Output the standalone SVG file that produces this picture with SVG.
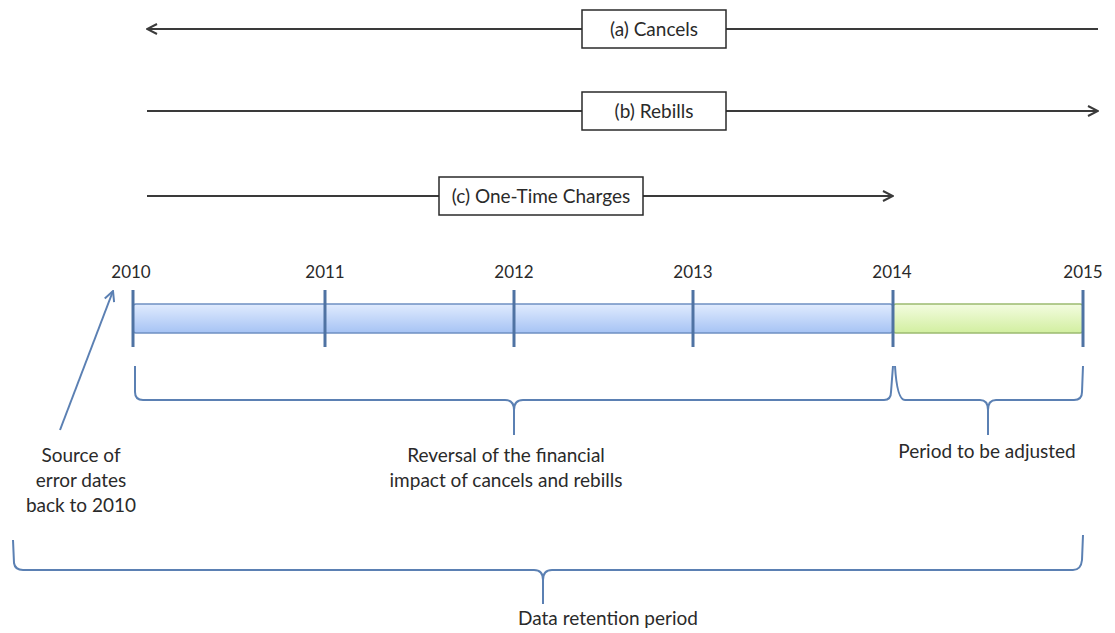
<svg xmlns="http://www.w3.org/2000/svg" width="1115" height="633" viewBox="0 0 1115 633">
<style>
text{font-family:Lato,"Open Sans","Liberation Sans",sans-serif;font-size:19px;fill:#2a2a2a;text-anchor:middle}
.ln{stroke:#3a3a3a;stroke-width:2;fill:none}
.box{fill:#fff;stroke:#2a2a2a;stroke-width:1.5}
.tick{stroke:#4f73a3;stroke-width:3}
.brace{stroke:#5b80b3;stroke-width:2;fill:none}
</style>
<defs>
<marker id="open" viewBox="0 0 12 12" refX="11" refY="6" markerWidth="12" markerHeight="12" markerUnits="userSpaceOnUse" orient="auto-start-reverse">
<path d="M1,1 L11,6 L1,11" fill="none" stroke="#3a3a3a" stroke-width="2"/>
</marker>
<marker id="blueopen" viewBox="0 0 12 12" refX="11" refY="6" markerWidth="12" markerHeight="12" markerUnits="userSpaceOnUse" orient="auto">
<path d="M1,1 L11,6 L1,11" fill="none" stroke="#5b80b3" stroke-width="2"/>
</marker>
<linearGradient id="blue" x1="0" y1="0" x2="0" y2="1">
<stop offset="0" stop-color="#e0ebfe"/>
<stop offset="1" stop-color="#a6c3f4"/>
</linearGradient>
<linearGradient id="green" x1="0" y1="0" x2="0" y2="1">
<stop offset="0" stop-color="#f3fce0"/>
<stop offset="1" stop-color="#d2efa0"/>
</linearGradient>
</defs>
<g id="connectors">
<line class="ln" x1="1098" y1="29" x2="147" y2="29" marker-end="url(#open)"/>
<line class="ln" x1="147" y1="111" x2="1098" y2="111" marker-end="url(#open)"/>
<line class="ln" x1="147" y1="196" x2="893" y2="196" marker-end="url(#open)"/>
<line x1="60" y1="430" x2="113" y2="291" stroke="#5b80b3" stroke-width="2" marker-end="url(#blueopen)"/>
</g>
<g id="cancels">
<rect class="box" x="582" y="10" width="144" height="38"/>
<text x="654" y="36">(a) Cancels</text>
</g>
<g id="rebills">
<rect class="box" x="582" y="92" width="144" height="38"/>
<text x="654" y="118">(b) Rebills</text>
</g>
<g id="onetime">
<rect class="box" x="439" y="177" width="204" height="38"/>
<text x="541" y="203">(c) One-Time Charges</text>
</g>
<g id="timeline">
<rect x="133" y="304" width="760" height="29" rx="3" fill="url(#blue)" stroke="#6f90c2" stroke-width="1.5"/>
<rect x="893" y="304" width="190" height="29" rx="3" fill="url(#green)" stroke="#9cbb70" stroke-width="1.5"/>
<line class="tick" x1="133" y1="290" x2="133" y2="347"/>
<line class="tick" x1="325" y1="290" x2="325" y2="347"/>
<line class="tick" x1="514" y1="290" x2="514" y2="347"/>
<line class="tick" x1="693" y1="290" x2="693" y2="347"/>
<line class="tick" x1="893" y1="290" x2="893" y2="347"/>
<line class="tick" x1="1083" y1="290" x2="1083" y2="347"/>
<text x="131" y="278" style="font-size:17px">2010</text>
<text x="325" y="278" style="font-size:17px">2011</text>
<text x="514" y="278" style="font-size:17px">2012</text>
<text x="693" y="278" style="font-size:17px">2013</text>
<text x="892" y="278" style="font-size:17px">2014</text>
<text x="1083" y="278" style="font-size:17px">2015</text>
</g>
<g id="reversal">
<path class="brace" d="M135,366 L135,392 Q135,400 143,400 L505,400 Q514,400 514,410 L514,435 M514,410 Q514,400 523,400 L884,400 Q891,400 891,392 L893,366"/>
<text x="506" y="462">Reversal of the financial</text>
<text x="506" y="487">impact of cancels and rebills</text>
</g>
<g id="adjusted">
<path class="brace" d="M895,366 Q897,400 905,400 L980,400 Q988,400 988,410 L988,435 M988,410 Q988,400 996,400 L1074,400 Q1082,400 1082,392 L1083,366"/>
<text x="987" y="458">Period to be adjusted</text>
</g>
<g id="source">
<text x="81" y="462">Source of</text>
<text x="81" y="487">error dates</text>
<text x="81" y="512">back to 2010</text>
</g>
<g id="retention">
<path class="brace" d="M13,540 L14,563 Q15,570 23,570 L534,570 Q543,570 543,580 L543,604 M543,580 Q543,570 552,570 L1073,570 Q1081,570 1082,560 L1083,535"/>
<text x="608" y="625">Data retention period</text>
</g>
</svg>
